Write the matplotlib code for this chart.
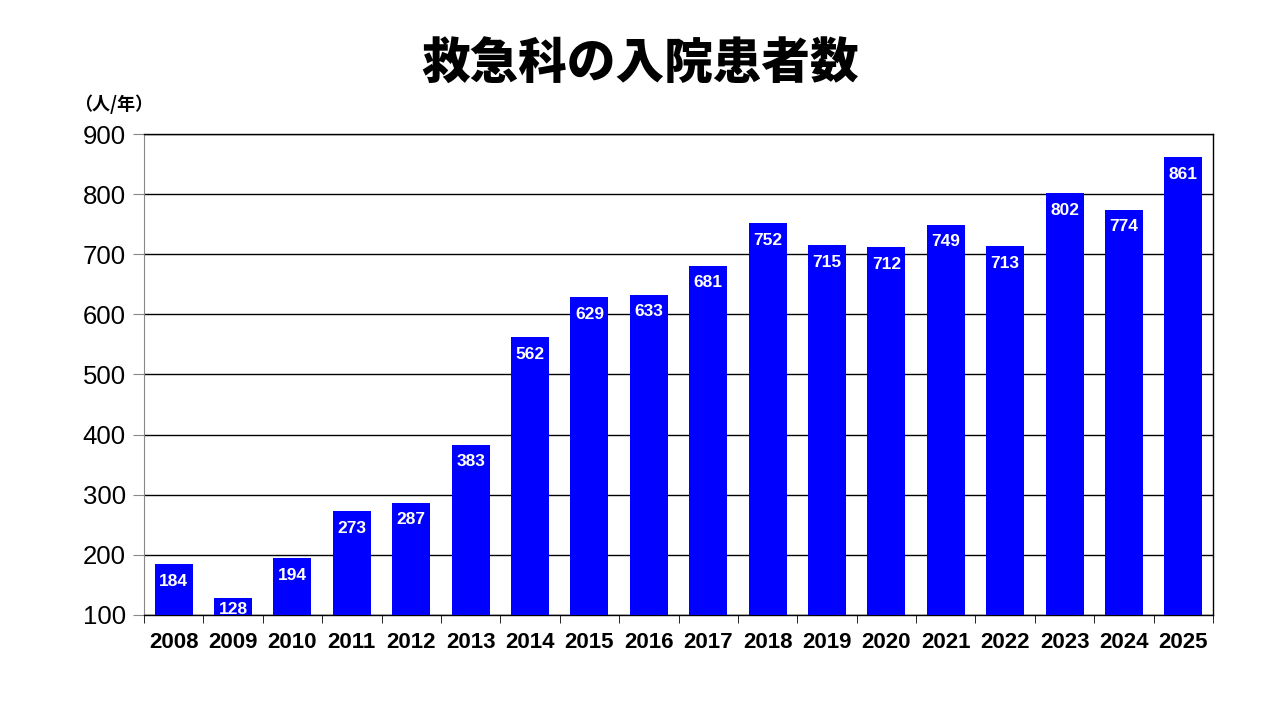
import matplotlib
matplotlib.use("Agg")
import matplotlib.pyplot as plt
import numpy as np

plt.rcParams['font.family'] = ['Noto Sans CJK JP', 'DejaVu Sans']

years = ["2008", "2009", "2010", "2011", "2012", "2013", "2014", "2015", "2016",
         "2017", "2018", "2019", "2020", "2021", "2022", "2023", "2024", "2025"]
patients = [184, 128, 194, 273, 287, 383, 562, 629, 633,
            681, 752, 715, 712, 749, 713, 802, 774, 861]

fig = plt.figure(figsize=(12.8, 7.2), dpi=100)
ax = fig.add_axes([144 / 1280, 1 - 615 / 720, (1213 - 144) / 1280, (615 - 134) / 720])

x = np.arange(len(years))
heights = [v - 100 for v in patients]
bars = ax.bar(x, heights, width=0.64, color="#0000FF", zorder=3, bottom=100)
for b, v in zip(bars, patients):
    # label sits ~10px under the bar top, pushed up when the bar is short
    off = min(16, v - 100 - 22)
    ax.text(b.get_x() + b.get_width() / 2, v - off, str(v), ha="center", va="top",
            color="white", fontsize=12.5, fontweight="bold", family="Liberation Sans", zorder=4)

ax.set_xlim(-0.5, len(years) - 0.5)
ax.set_ylim(100, 900)
ax.set_yticks(range(100, 901, 100))
ax.yaxis.grid(True, color="black", linewidth=1, zorder=1)
ax.tick_params(axis="y", labelsize=18.5, length=8, color="#888888", pad=5)
for lbl in ax.get_yticklabels():
    lbl.set_family("Liberation Sans")

ax.set_xticks(x)
ax.set_xticklabels(years, fontsize=16, fontweight="bold", family="Liberation Sans")
ax.set_xticks(np.arange(-0.5, len(years)), minor=True)
ax.tick_params(axis="x", which="major", length=0, pad=12)
ax.tick_params(axis="x", which="minor", length=6, color="black", direction="out")

ax.spines["left"].set_color("#888888")
for s in ["top", "right", "bottom"]:
    ax.spines[s].set_color("black")
    ax.spines[s].set_linewidth(1)

fig.text(0.5, 1 - 65 / 720, "救急科の入院患者数", ha="center", va="center",
         fontsize=35, fontweight="black")
fig.text(74 / 1280, 1 - 104 / 720, "（人/年）", ha="left", va="center",
         fontsize=13, fontweight="bold")

fig.savefig("out.png", dpi=100)
